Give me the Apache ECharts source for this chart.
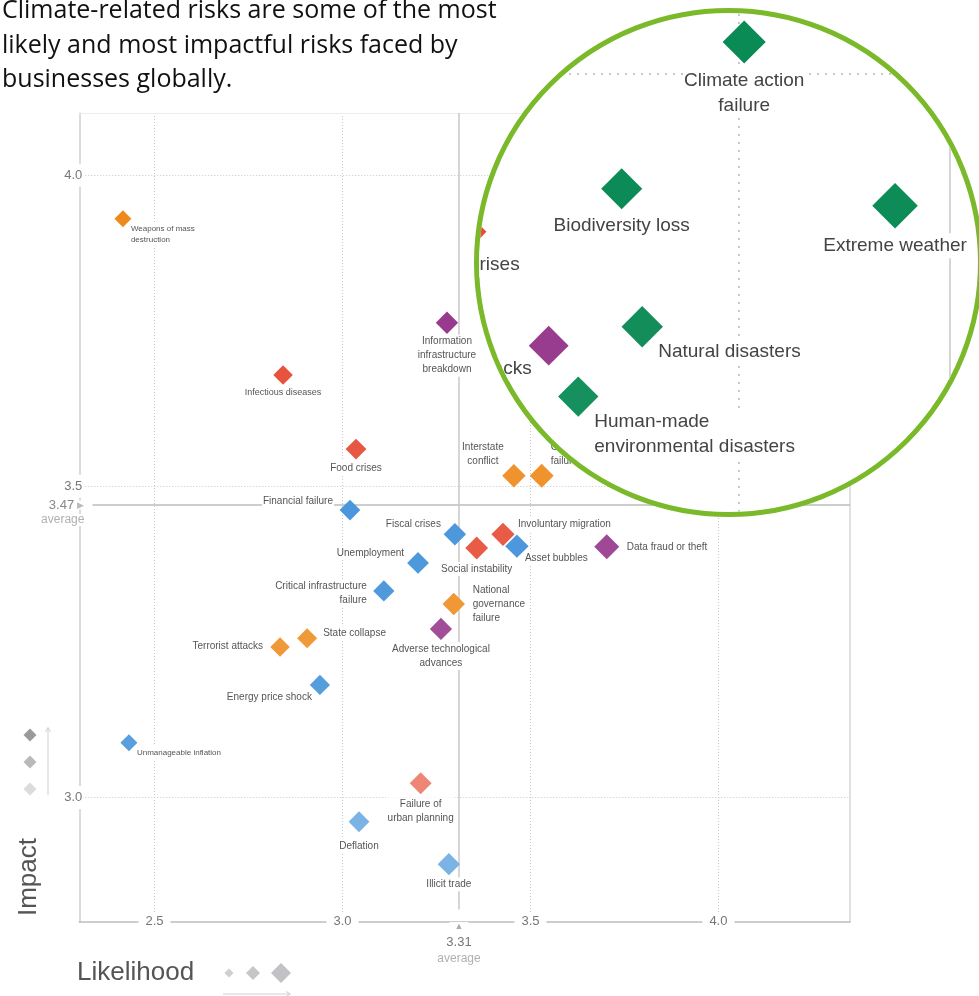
<!DOCTYPE html>
<html>
<head>
<meta charset="utf-8">
<title>Global risks landscape</title>
<script src="https://cdn.jsdelivr.net/npm/echarts@6/dist/echarts.min.js"></script>
<style>
  html, body { margin: 0; padding: 0; background: #fff; overflow: hidden; }
  #main { position: absolute; left: 0; top: 0; width: 979px; height: 996px; }
  #lens { position: absolute; box-sizing: border-box; border-style: solid; border-color: #7ab929; border-radius: 50%; overflow: hidden; background: #fff; }
  #lensChart { position: absolute; width: 1300px; height: 1350px; }
</style>
</head>
<body>
<div id="main"></div>
<div id="lens"><div id="lensChart"></div></div>
<script>
// risks: likelihood (x) and impact (y)
var riskNames = ['Weapons of mass destruction', 'Infectious diseases', 'Information infrastructure breakdown',
    'Food crises', 'Financial failure', 'Fiscal crises', 'Unemployment', 'Critical infrastructure failure',
    'National governance failure', 'Adverse technological advances', 'State collapse', 'Terrorist attacks',
    'Energy price shock', 'Unmanageable inflation', 'Failure of urban planning', 'Deflation', 'Illicit trade',
    'Interstate conflict', 'Global governance failure', 'Involuntary migration', 'Social instability',
    'Asset bubbles', 'Data fraud or theft', 'Climate action failure', 'Biodiversity loss', 'Extreme weather',
    'Natural disasters', 'Human-made environmental disasters', 'Cyberattacks', 'Water crises'];
var likelihood = [2.416, 2.842, 3.278, 3.036, 3.020, 3.299, 3.201, 3.110, 3.296, 3.262, 2.906, 2.834, 2.940,
    2.432, 3.208, 3.044, 3.283, 3.456, 3.530, 3.427, 3.357, 3.464, 3.703, 4.009, 3.806, 4.259, 3.840, 3.734,
    3.685, 3.550];
var impact = [3.930, 3.679, 3.763, 3.560, 3.462, 3.423, 3.377, 3.332, 3.311, 3.271, 3.256, 3.242, 3.181,
    3.088, 3.023, 2.961, 2.893, 3.517, 3.517, 3.423, 3.401, 3.404, 3.403, 4.032, 3.885, 3.868, 3.747, 3.677,
    3.728, 3.842];
var riskGroup = ['geo', 'soc', 'tech', 'soc', 'eco', 'eco', 'eco', 'eco', 'geo', 'tech', 'geo', 'geo', 'eco',
    'eco', 'soc', 'eco', 'eco', 'geo', 'geo', 'soc', 'soc', 'eco', 'tech', 'env', 'env', 'env', 'env', 'env',
    'tech', 'soc'];

var avgLikelihood = 3.31;
var avgImpact = 3.47;
var xTicks = ['2.5', '3.0', '3.5', '4.0'];

var groups = ['eco', 'env', 'geo', 'soc', 'tech'];
var groupColor = {eco: '#3a8dd8', env: '#0a8a55', geo: '#ee8a1c', soc: '#e64a33', tech: '#94348a'};

var FONT = '"Liberation Sans", Arial, sans-serif';
var xMin = 2.3, xMax = 4.35, yMin = 2.8, yMax = 4.1;

// main plot area (px) and the magnifier
var GRID = {left: 79.3, top: 113, width: 770.7, height: 809};
var ZOOM = 1.605, FOCUS = [684.8, 342.6];
var LENS = {left: 474, top: 8, size: 509, border: 5};
var LENS_ORIGIN = [-300, -50];

// label placement: offset from diamond centre
var mainLabel = {
    'Weapons of mass destruction': {text: 'Weapons of mass\ndestruction', dx: 7, dy: 5, align: 'left', va: 'top', size: 8, lh: 11},
    'Infectious diseases': {dx: 0, dy: 18, size: 9},
    'Information infrastructure breakdown': {text: 'Information\ninfrastructure\nbreakdown', dx: 0, dy: 12, va: 'top'},
    'Food crises': {dx: 0, dy: 19},
    'Financial failure': {dx: -16, dy: -9, align: 'right'},
    'Fiscal crises': {dx: -13, dy: -10, align: 'right'},
    'Unemployment': {dx: -13, dy: -10, align: 'right'},
    'Critical infrastructure failure': {text: 'Critical infrastructure\nfailure', dx: -16, dy: 2, align: 'right'},
    'National governance failure': {text: 'National\ngovernance\nfailure', dx: 18, dy: 0, align: 'left'},
    'Adverse technological advances': {text: 'Adverse technological\nadvances', dx: 0, dy: 13, va: 'top'},
    'State collapse': {dx: 15, dy: -5, align: 'left'},
    'Terrorist attacks': {dx: -16, dy: -1, align: 'right'},
    'Energy price shock': {dx: -7, dy: 12, align: 'right'},
    'Unmanageable inflation': {dx: 7, dy: 10, align: 'left', size: 8},
    'Failure of urban planning': {text: 'Failure of\nurban planning', dx: 0, dy: 14, va: 'top'},
    'Deflation': {dx: 0, dy: 24},
    'Illicit trade': {dx: 0, dy: 20},
    'Interstate conflict': {text: 'Interstate\nconflict', dx: -31, dy: -22},
    'Global governance failure': {text: 'Global governance\nfailure', dx: 8, dy: -22, align: 'left'},
    'Involuntary migration': {dx: 14, dy: -10, align: 'left'},
    'Social instability': {dx: 0, dy: 21},
    'Asset bubbles': {dx: 7, dy: 12, align: 'left'},
    'Data fraud or theft': {dx: 19, dy: 1, align: 'left'}
};
var insetLabel = {
    'Climate action failure': {text: 'Climate action\nfailure', dx: 0, dy: 26, va: 'top'},
    'Biodiversity loss': {dx: 0, dy: 37},
    'Extreme weather': {dx: 0, dy: 40},
    'Natural disasters': {dx: 15, dy: 25, align: 'left'},
    'Human-made environmental disasters': {text: 'Human-made\nenvironmental disasters', dx: 15, dy: 13, align: 'left', va: 'top'},
    'Cyberattacks': {dx: -16, dy: 23, align: 'right'},
    'Water crises': {dx: 0, dy: 33}
};

// lower impact -> paler diamond
function shade(hex, v) {
    var t = v < 3.05 ? 0.33 : Math.min(0.16, Math.max(0, (3.95 - v) * 0.18));
    var n = parseInt(hex.slice(1), 16);
    var c = [n >> 16, (n >> 8) & 255, n & 255].map(function (x) {
        return Math.round(x + (255 - x) * t);
    });
    return 'rgb(' + c.join(',') + ')';
}

function makeLabel(name, lab, inset) {
    var fs = inset ? 19 : (lab.size || 10);
    return {
        show: true,
        position: 'inside',
        offset: [lab.dx, lab.dy],
        align: lab.align || 'center',
        verticalAlign: lab.va || 'middle',
        formatter: lab.text || name,
        fontFamily: FONT,
        fontSize: fs,
        lineHeight: inset ? 25 : (lab.lh || 14),
        color: inset ? '#444' : '#555',
        textBorderWidth: 0,
        backgroundColor: '#fff',
        padding: [0, 1]
    };
}

function buildSeries(inset) {
    var k = inset ? ZOOM : 1;
    return groups.map(function (g, gi) {
        var data = [];
        for (var i = 0; i < riskNames.length; i++) {
            if (riskGroup[i] !== g) continue;
            var lab = inset ? insetLabel[riskNames[i]] : mainLabel[riskNames[i]];
            data.push({
                name: riskNames[i],
                value: [likelihood[i], impact[i]],
                symbolSize: k * (17 + (likelihood[i] - 2.42) * 6.2),
                itemStyle: {color: shade(groupColor[g], impact[i]), opacity: 1},
                label: lab ? makeLabel(riskNames[i], lab, inset) : {show: false}
            });
        }
        var s = {
            type: 'scatter',
            name: g,
            symbol: 'diamond',
            data: data,
            itemStyle: {opacity: 1},
            emphasis: {disabled: true}
        };
        if (!inset && gi === 0) {
            s.markLine = {
                silent: true,
                symbol: 'none',
                z: 1,
                animation: false,
                data: [
                    [{
                        coord: [2.335, avgImpact],
                        lineStyle: {color: '#bdbdbd', width: 1.5, type: 'solid'},
                        label: {
                            position: 'start', distance: 8, padding: [15, 0, 0, 0],
                            formatter: '{v|' + avgImpact + '} {t|▶}\n{a|average}',
                            rich: {
                                v: {fontFamily: FONT, fontSize: 13, color: '#888', lineHeight: 15, backgroundColor: '#fff'},
                                t: {fontSize: 9, color: '#bbb', lineHeight: 15, backgroundColor: '#fff'},
                                a: {fontFamily: FONT, fontSize: 12, color: '#b0b0b0', lineHeight: 15, backgroundColor: '#fff'}
                            }
                        }
                    }, {coord: [xMax, avgImpact]}],
                    [{
                        coord: [avgLikelihood, 2.82],
                        lineStyle: {color: '#c8c8c8', width: 1.5, type: 'solid'},
                        label: {
                            position: 'start', distance: 10,
                            formatter: '{t|▲}\n{v|' + avgLikelihood + '}\n{a|average}',
                            rich: {
                                t: {fontSize: 9, color: '#aaa', lineHeight: 14, backgroundColor: '#fff', padding: [0, 5]},
                                v: {fontFamily: FONT, fontSize: 13, color: '#777', lineHeight: 18},
                                a: {fontFamily: FONT, fontSize: 12, color: '#b0b0b0', lineHeight: 14}
                            }
                        }
                    }, {coord: [avgLikelihood, yMax]}]
                ]
            };
        }
        return s;
    });
}

function axes(inset) {
    var dotted = {show: true, showMinLine: false, showMaxLine: false,
        lineStyle: {color: '#c8c8c8', type: inset ? [2, 6] : [1, 2], width: inset ? 2 : 1}};
    var xLab = {
        show: !inset, margin: -8, padding: [1, 7], backgroundColor: '#fff',
        showMinLabel: false, showMaxLabel: false, fontFamily: FONT, fontSize: 13, color: '#777',
        formatter: function (v) { return xTicks.indexOf(v.toFixed(1)) >= 0 ? v.toFixed(1) : ''; }
    };
    var yLab = {
        show: !inset, margin: -4, padding: [5, 1, 5, 5], backgroundColor: '#fff',
        showMinLabel: false, showMaxLabel: false, fontFamily: FONT, fontSize: 13, color: '#777',
        formatter: function (v) { return v.toFixed(1); }
    };
    return {
        xAxis: [{
            type: 'value', min: xMin, max: xMax, splitNumber: 4, position: 'bottom',
            axisLine: {show: !inset, lineStyle: {color: '#bdbdbd', width: 1.5}},
            axisTick: {show: false}, axisLabel: xLab, splitLine: dotted
        }, {
            type: 'value', min: xMin, max: xMax, position: 'top',
            axisLine: {show: true, lineStyle: {color: '#ececec', width: 1}},
            axisTick: {show: false}, axisLabel: {show: false}, splitLine: {show: false}
        }],
        yAxis: [{
            type: 'value', min: yMin, max: yMax, splitNumber: 3, position: 'left',
            axisLine: {show: !inset, lineStyle: {color: '#cfcfcf', width: 1.5}},
            axisTick: {show: false}, axisLabel: yLab, splitLine: dotted
        }, {
            type: 'value', min: yMin, max: yMax, position: 'right',
            axisLine: {show: true, lineStyle: {color: '#d6d6d6', width: inset ? 2 : 1.5}},
            axisTick: {show: false}, axisLabel: {show: false}, splitLine: {show: false}
        }]
    };
}

function diamond(cx, cy, s, color) {
    var h = s / 2;
    return {type: 'polygon', shape: {points: [[cx, cy - h], [cx + h, cy], [cx, cy + h], [cx - h, cy]]},
        style: {fill: color}, silent: true};
}

// main chart
var mainAxes = axes(false);
var chart = echarts.init(document.getElementById('main'));
chart.setOption({
    animation: false,
    grid: {left: GRID.left, top: GRID.top, width: GRID.width, height: GRID.height, containLabel: false},
    xAxis: mainAxes.xAxis,
    yAxis: mainAxes.yAxis,
    series: buildSeries(false),
    graphic: [
        {type: 'text', x: 2, y: -6, silent: true, style: {
            text: 'Climate-related risks are some of the most\nlikely and most impactful risks faced by\nbusinesses globally.',
            font: '25px "Open Sans", Lato, sans-serif', lineHeight: 34.5, fill: '#111'}},
        // impact key
        {type: 'text', x: 29, y: 877, rotation: Math.PI / 2, silent: true,
            style: {text: 'Impact', font: '26px ' + FONT, fill: '#555', align: 'center', verticalAlign: 'middle'}},
        diamond(30, 735, 13, '#9a9a9a'),
        diamond(30, 762, 13, '#b9b9b9'),
        diamond(30, 789, 13, '#dcdcdc'),
        {type: 'line', shape: {x1: 48, y1: 795, x2: 48, y2: 728}, style: {stroke: '#cfcfcf', lineWidth: 1}, silent: true},
        {type: 'polyline', shape: {points: [[45.5, 732], [48, 727.5], [50.5, 732]]}, style: {stroke: '#cfcfcf', lineWidth: 1, fill: null}, silent: true},
        // likelihood key
        {type: 'text', x: 77, y: 973, silent: true,
            style: {text: 'Likelihood', font: '26px ' + FONT, fill: '#555', verticalAlign: 'middle'}},
        diamond(229, 973, 9, '#cfcfcf'),
        diamond(253, 973, 14, '#c6c6c6'),
        diamond(281, 973, 20, '#c2c2c6'),
        {type: 'line', shape: {x1: 223, y1: 994, x2: 290, y2: 994}, style: {stroke: '#cfcfcf', lineWidth: 1}, silent: true},
        {type: 'polyline', shape: {points: [[286, 991.5], [290.5, 994], [286, 996.5]]}, style: {stroke: '#cfcfcf', lineWidth: 1, fill: null}, silent: true}
    ]
});

// magnifier: same data, scaled about FOCUS, clipped by the round lens
var lens = document.getElementById('lens');
lens.style.left = LENS.left + 'px';
lens.style.top = LENS.top + 'px';
lens.style.width = LENS.size + 'px';
lens.style.height = LENS.size + 'px';
lens.style.borderWidth = LENS.border + 'px';
var lensDom = document.getElementById('lensChart');
lensDom.style.left = (LENS_ORIGIN[0] - LENS.left - LENS.border) + 'px';
lensDom.style.top = (LENS_ORIGIN[1] - LENS.top - LENS.border) + 'px';

var insetAxes = axes(true);
var chart2 = echarts.init(lensDom);
chart2.setOption({
    animation: false,
    grid: {
        left: FOCUS[0] + ZOOM * (GRID.left - FOCUS[0]) - LENS_ORIGIN[0],
        top: FOCUS[1] + ZOOM * (GRID.top - FOCUS[1]) - LENS_ORIGIN[1],
        width: ZOOM * GRID.width,
        height: ZOOM * GRID.height
    },
    xAxis: insetAxes.xAxis,
    yAxis: insetAxes.yAxis,
    series: buildSeries(true)
});
</script>
</body>
</html>
